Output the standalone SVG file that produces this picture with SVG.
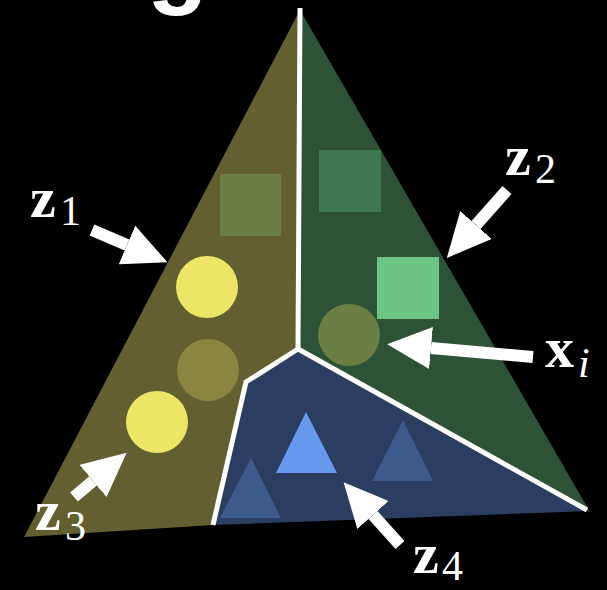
<svg xmlns="http://www.w3.org/2000/svg" width="607" height="590" viewBox="0 0 607 590">
<defs>
<style>
.div{fill:none;stroke:#ffffff;stroke-width:5;stroke-linejoin:miter}
.arr{stroke:#ffffff;stroke-width:12;fill:none}
.lbl{font-family:"Liberation Serif","Times New Roman",serif;fill:#ffffff}
.b{font-weight:bold;font-size:58px}
.s{font-size:42px}
</style>
<marker id="ah" markerUnits="userSpaceOnUse" markerWidth="44" markerHeight="42" viewBox="0 0 44 42" refX="0" refY="21" orient="auto">
<path d="M0,0 L44,21 L0,42 z" fill="#ffffff"/>
</marker>
</defs>
<rect width="607" height="590" fill="#000000"/>
<text x="147" y="-5" font-family="Liberation Sans, Arial, sans-serif" font-weight="bold" font-size="100" fill="#ffffff">g</text>

<g id="region-olive">
<polygon points="300,10 298,349 246,382 213,525 24,537" fill="#625f31"/>
<rect x="220" y="174" width="61" height="62" fill="#6b7f45"/>
<circle cx="207" cy="287" r="31" fill="#ede566"/>
<circle cx="208" cy="370" r="31" fill="#8a8540"/>
<circle cx="157" cy="422" r="31" fill="#ede566"/>
</g>
<g id="region-green">
<polygon points="300,10 590,512 298,349" fill="#2d5235"/>
<rect x="319" y="150" width="62" height="62" fill="#3f7750"/>
<rect x="377" y="257" width="62" height="62" fill="#6cc585"/>
<circle cx="349" cy="335" r="31" fill="#6b7f45"/>
</g>
<g id="region-blue">
<polygon points="298,349 589,511 213,525 246,382" fill="#2b3d60"/>
<polygon points="306,412 276,473 337,473" fill="#6699ee"/>
<polygon points="403,420 372,481 433,481" fill="#3d5a8c"/>
<polygon points="251,458 220,518 281,518" fill="#3d5a8c"/>
</g>
<g id="dividers">
<polyline class="div" points="300,8 298,349 587,510"/>
<polyline class="div" points="298,349 246,382 213,525"/>
</g>

<g id="connectors">
<line class="arr" x1="92" y1="230" x2="127" y2="245" marker-end="url(#ah)"/>
<line class="arr" x1="507" y1="190" x2="476" y2="225" marker-end="url(#ah)"/>
<line class="arr" x1="533" y1="357" x2="431" y2="348" marker-end="url(#ah)"/>
<line class="arr" x1="74" y1="497" x2="93" y2="481" marker-end="url(#ah)"/>
<line class="arr" x1="400" y1="545" x2="373" y2="515" marker-end="url(#ah)"/>
</g>

<g id="label-z1" class="lbl"><text class="b" x="30" y="217">z</text><text class="s" x="60" y="225">1</text></g>
<g id="label-z2" class="lbl"><text class="b" x="505" y="175">z</text><text class="s" x="535" y="183">2</text></g>
<g id="label-xi" class="lbl"><text class="b" x="545" y="367">x</text><text class="s" x="578" y="377" font-style="italic">i</text></g>
<g id="label-z3" class="lbl"><text class="b" x="35" y="530">z</text><text class="s" x="65" y="540">3</text></g>
<g id="label-z4" class="lbl"><text class="b" x="413" y="573">z</text><text class="s" x="442" y="580">4</text></g>
</svg>
